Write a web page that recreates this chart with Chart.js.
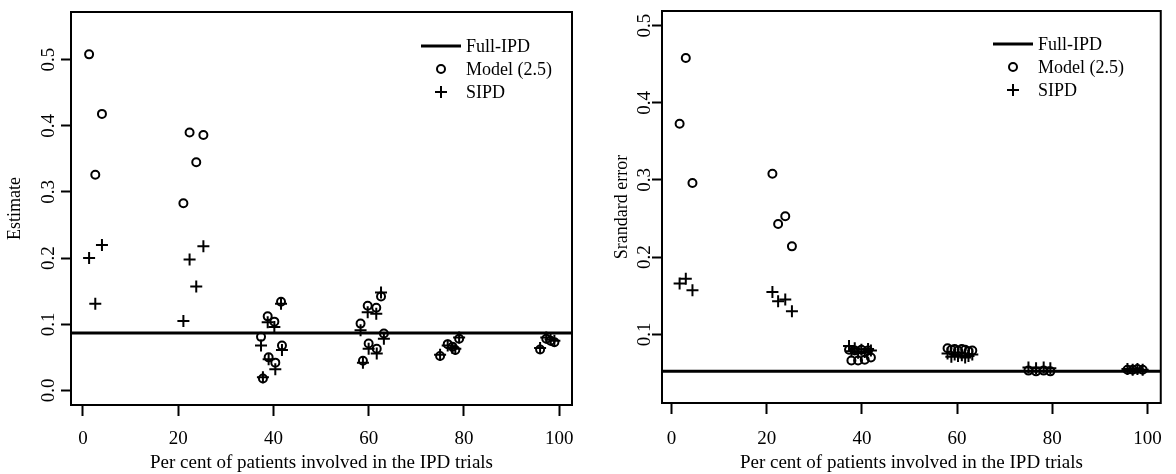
<!DOCTYPE html>
<html lang="en">
<head>
<meta charset="UTF-8">
<title>IPD trials</title>
<script src="https://cdn.jsdelivr.net/npm/chart.js"></script>
<style>
  body { margin: 0; background: #fff; }
  #painel { position: relative; width: 1176px; height: 474px; }
  #painel canvas { position: absolute; top: 0; }
  #esquerda { left: 0; }
  #direita { left: 588px; }
</style>
</head>
<body>
<div id="painel">
  <canvas id="esquerda" width="588" height="474"></canvas>
  <canvas id="direita" width="588" height="474"></canvas>
</div>
<script>
// left panel: estimate, one entry per scenario
const pctEst = [1.3, 2.6, 4.0, 21.1, 22.4, 23.8, 25.3,
  37.4, 37.8, 38.8, 39.0, 40.2, 40.4, 41.6, 41.8,
  58.3, 58.8, 59.8, 60.0, 61.6, 61.7, 62.6, 63.2,
  75.0, 76.6, 77.6, 78.2, 79.0, 96.0, 97.3, 98.2, 99.0];
const estModel = [0.508, 0.326, 0.418, 0.283, 0.390, 0.345, 0.386,
  0.081, 0.018, 0.112, 0.050, 0.104, 0.042, 0.134, 0.068,
  0.101, 0.045, 0.128, 0.071, 0.125, 0.063, 0.142, 0.086,
  0.052, 0.070, 0.066, 0.061, 0.078, 0.062, 0.078, 0.075, 0.073];
const estSipd = [0.200, 0.131, 0.220, 0.105, 0.198, 0.157, 0.218,
  0.068, 0.020, 0.103, 0.047, 0.096, 0.032, 0.131, 0.061,
  0.091, 0.042, 0.118, 0.063, 0.116, 0.056, 0.148, 0.078,
  0.054, 0.068, 0.064, 0.063, 0.080, 0.064, 0.080, 0.077, 0.075];
const estFull = 0.087;

// right panel: standard error
const pctSe = [1.7, 3.0, 4.4, 21.2, 22.4, 23.9, 25.3,
  37.3, 37.8, 38.5, 39.2, 39.9, 40.6, 41.3, 41.9,
  58.0, 58.8, 59.5, 60.2, 61.0, 61.7, 62.4, 63.2,
  75.0, 76.6, 78.2, 79.6, 95.8, 96.9, 97.9, 99.0];
const seModel = [0.373, 0.458, 0.296, 0.308, 0.243, 0.253, 0.214,
  0.080, 0.066, 0.079, 0.066, 0.080, 0.067, 0.079, 0.070,
  0.082, 0.080, 0.081, 0.079, 0.081, 0.080, 0.078, 0.079,
  0.053, 0.052, 0.053, 0.052, 0.054, 0.054, 0.055, 0.054];
const seSipd = [0.166, 0.172, 0.157, 0.155, 0.143, 0.145, 0.130,
  0.085, 0.078, 0.082, 0.076, 0.080, 0.077, 0.081, 0.079,
  0.075, 0.071, 0.074, 0.072, 0.073, 0.070, 0.072, 0.074,
  0.057, 0.056, 0.057, 0.056, 0.055, 0.054, 0.055, 0.054];
const seFull = 0.052;

const xTicks = [0, 20, 40, 60, 80, 100];
const yTicksEst = [0.0, 0.1, 0.2, 0.3, 0.4, 0.5];
const yTicksSe = [0.1, 0.2, 0.3, 0.4, 0.5];
const legendas = ['Full-IPD', 'Model (2.5)', 'SIPD'];
const tituloX = 'Per cent of patients involved in the IPD trials';

const fonte = 'Liberation Serif';

// moldura em volta da area do grafico
const caixa = {
  id: 'caixa',
  afterDraw(chart) {
    const { ctx, chartArea: a } = chart;
    ctx.save();
    ctx.strokeStyle = '#000';
    ctx.lineWidth = 2;
    ctx.strokeRect(a.left, a.top, a.right - a.left, a.bottom - a.top);
    ctx.restore();
  }
};

// legenda no estilo do R
const legenda = {
  id: 'legenda',
  afterDraw(chart, args, opts) {
    const ctx = chart.ctx;
    const x = opts.x;
    ctx.save();
    ctx.strokeStyle = '#000';
    ctx.fillStyle = '#000';
    ctx.font = opts.size + 'px "' + fonte + '"';
    ctx.textBaseline = 'middle';
    chart.data.datasets.forEach(function (ds, i) {
      const y = opts.y + i * opts.gap;
      const cx = x - 25;
      ctx.lineWidth = 2;
      ctx.beginPath();
      if (i == 0) {
        ctx.lineWidth = 3;
        ctx.moveTo(x - 45, y);
        ctx.lineTo(x - 5, y);
      } else if (ds.pointStyle == 'circle') {
        ctx.arc(cx, y, 4, 0, Math.PI * 2);
      } else {
        ctx.moveTo(cx - 6, y); ctx.lineTo(cx + 6, y);
        ctx.moveTo(cx, y - 6); ctx.lineTo(cx, y + 6);
      }
      ctx.stroke();
      ctx.fillText(ds.label, x, y + 1);
    });
    ctx.restore();
  }
};

function montar(id, pct, modelo, sipd, full, yTicks, lim, cfg) {
  const pontos = (ys) => pct.map((p, i) => ({ x: p, y: ys[i] }));
  new Chart(document.getElementById(id), {
    type: 'scatter',
    data: {
      datasets: [{
        type: 'line',
        label: legendas[0],
        data: [{ x: -10, y: full }, { x: 110, y: full }],
        borderColor: '#000',
        borderWidth: 3,
        pointRadius: 0
      }, {
        label: legendas[1],
        data: pontos(modelo),
        pointStyle: 'circle',
        pointRadius: 4,
        borderWidth: 2,
        borderColor: '#000',
        backgroundColor: 'rgba(0,0,0,0)'
      }, {
        label: legendas[2],
        data: pontos(sipd),
        pointStyle: 'cross',
        pointRadius: 6,
        borderWidth: 2,
        borderColor: '#000'
      }]
    },
    options: {
      responsive: false,
      animation: false,
      layout: { padding: cfg.padding },
      plugins: {
        legend: { display: false },
        tooltip: { enabled: false },
        legenda: cfg.legenda
      },
      scales: {
        x: {
          type: 'linear',
          min: lim[0], max: lim[1],
          afterBuildTicks: (s) => { s.ticks = xTicks.map(v => ({ value: v })); },
          afterFit: (s) => { s.height = cfg.xAltura; },
          grid: { drawOnChartArea: false, tickLength: 11, tickColor: '#000', tickWidth: 2 },
          border: { color: '#000', width: 2 },
          ticks: { color: '#000', padding: cfg.xPad, font: { family: fonte, size: 19 } },
          title: {
            display: true, text: tituloX, color: '#000',
            padding: { top: 0, bottom: 0 },
            font: { family: fonte, size: 19 }
          }
        },
        y: {
          min: lim[2], max: lim[3],
          afterBuildTicks: (s) => { s.ticks = yTicks.map(v => ({ value: v })); },
          afterFit: (s) => { s.width = cfg.yLargura; },
          grid: { drawOnChartArea: false, tickLength: 10, tickColor: '#000', tickWidth: 2 },
          border: { color: '#000', width: 2 },
          ticks: {
            color: '#000', padding: cfg.yPad, minRotation: 90, maxRotation: 90, crossAlign: 'center',
            font: { family: fonte, size: 19 },
            callback: (v) => v.toFixed(1)
          },
          title: {
            display: true, text: cfg.tituloY, color: '#000',
            padding: { top: 4, bottom: 0 },
            font: { family: fonte, size: 18 }
          }
        }
      }
    },
    plugins: [caixa, legenda]
  });
}

montar('esquerda', pctEst, estModel, estSipd, estFull, yTicksEst,
  [-2.5, 102.7, -0.022, 0.572], {
    padding: { left: 0, right: 16, top: 12, bottom: 0 },
    yLargura: 71, xAltura: 69, xPad: 12, yPad: 0,
    tituloY: 'Estimate',
    legenda: { x: 466, y: 46, gap: 23, size: 18 }
  });

montar('direita', pctSe, seModel, seSipd, seFull, yTicksSe,
  [-2.0, 102.8, 0.011, 0.519], {
    padding: { left: 19, right: 12, top: 11, bottom: 0 },
    yLargura: 55, xAltura: 71, xPad: 14, yPad: -5,
    tituloY: 'Srandard error',
    legenda: { x: 1038 - 588, y: 44, gap: 23, size: 18 }
  });
</script>
</body>
</html>
